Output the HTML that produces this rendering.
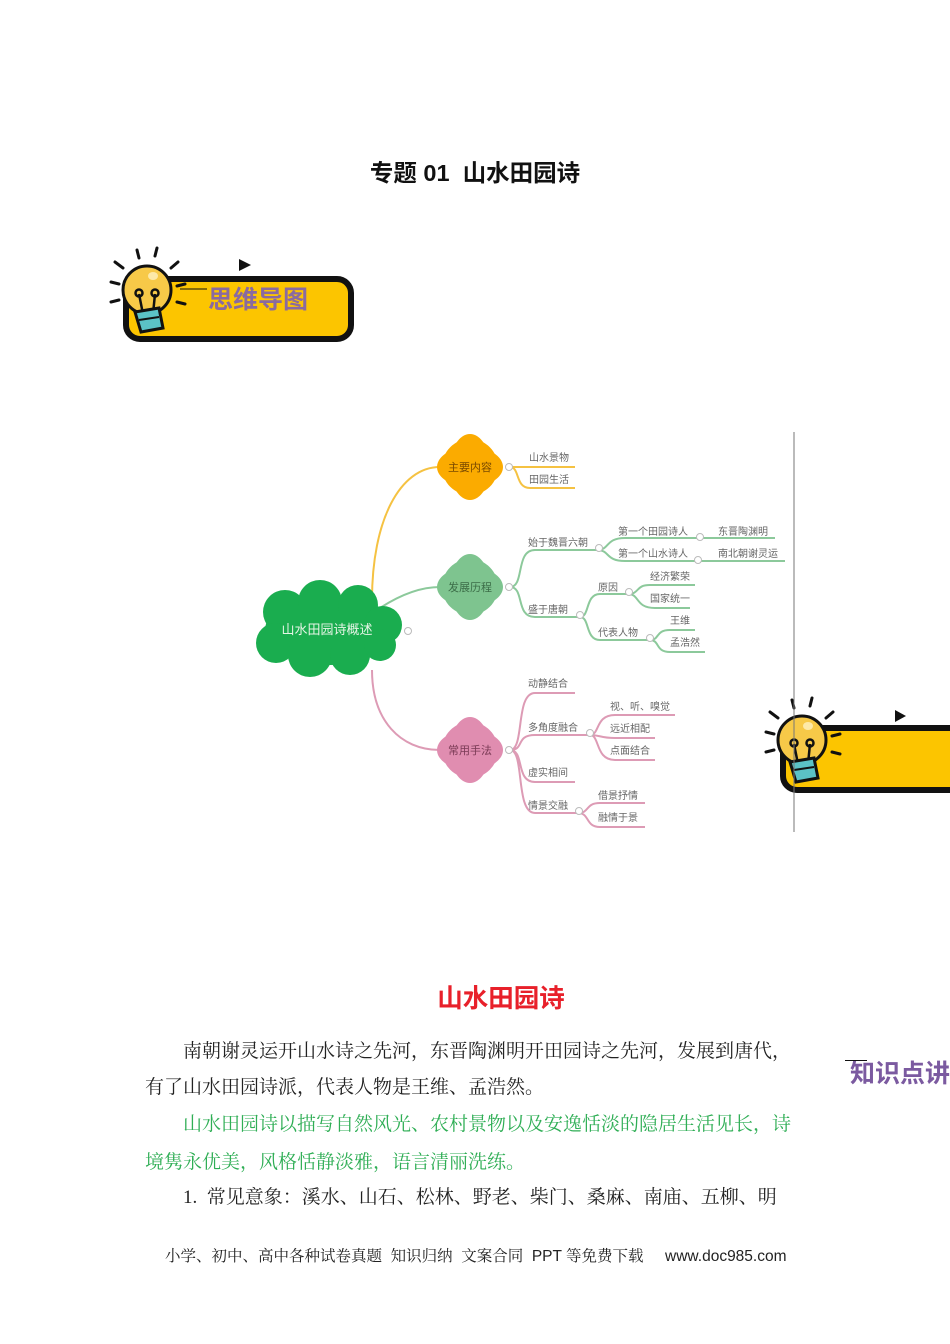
<!DOCTYPE html>
<html><head><meta charset="utf-8">
<style>
body{margin:0;width:950px;height:1344px;background:#fff;position:relative;overflow:hidden;font-family:"Liberation Sans","Noto Sans CJK SC",sans-serif;}
.a{position:absolute;white-space:nowrap;}
.p{position:absolute;font-family:"Liberation Serif","Noto Serif CJK SC",serif;font-size:19px;color:#222;white-space:nowrap;}
</style></head><body>
<div class="a" style="left:0;width:950px;top:154px;text-align:center;font-size:23.5px;font-weight:bold;color:#111;">专题 01&nbsp; 山水田园诗</div>

<svg class="a" style="left:0;top:0" width="950" height="1344">
<defs>
<g id="bulb">
 <g stroke="#111" stroke-width="3" stroke-linecap="round">
  <line x1="-14" y1="-32" x2="-16" y2="-40"/><line x1="2" y1="-34" x2="4" y2="-42"/>
  <line x1="-30" y1="-22" x2="-38" y2="-28"/><line x1="18" y1="-22" x2="25" y2="-28"/>
  <line x1="-34" y1="-6" x2="-42" y2="-8"/><line x1="-34" y1="10" x2="-42" y2="12"/>
  <line x1="24" y1="-4" x2="32" y2="-6"/><line x1="24" y1="12" x2="32" y2="14"/>
 </g>
 <circle cx="-6" cy="0" r="24" fill="#f7c948" stroke="#111" stroke-width="3"/>
 <ellipse cx="0" cy="-14" rx="5" ry="4" fill="#fde9a8"/>
 <path d="M-14 4 l4 20 M2 4 l-2 20" stroke="#111" stroke-width="2.5" fill="none"/>
 <circle cx="-14" cy="3" r="3.5" fill="none" stroke="#111" stroke-width="2.5"/>
 <circle cx="2" cy="3" r="3.5" fill="none" stroke="#111" stroke-width="2.5"/>
 <path d="M-18 22 l24 -4 l4 20 l-22 4 z" fill="#5bc2c6" stroke="#111" stroke-width="3"/>
 <line x1="-14" y1="30" x2="6" y2="27" stroke="#111" stroke-width="2"/>
</g>
</defs>
<rect x="126" y="279" width="225" height="60" rx="14" fill="#fcc500" stroke="#111" stroke-width="6"/>
<polygon points="239,259 251,265 239,271" fill="#111"/>
<line x1="180" y1="289" x2="207" y2="289" stroke="#111" stroke-width="1"/>
<use href="#bulb" transform="translate(153,290)"/>
<rect x="783" y="728" width="200" height="62" rx="14" fill="#fcc500" stroke="#111" stroke-width="6"/>
<polygon points="895,710 906,716 895,722" fill="#111"/>
<use href="#bulb" transform="translate(808,740)"/>
<line x1="794" y1="432" x2="794" y2="832" stroke="#777" stroke-width="1"/>

<g fill="none" stroke-width="2">
 <path d="M372 600 C372 520 400 467 440 467" stroke="#f5c242"/>
 <path d="M510 467 C520 467 520 467 575 467 M510 467 C520 467 515 488 530 488 L575 488" stroke="#f5c242"/>
 <path d="M380 608 C400 595 420 587 440 587" stroke="#8cc99b"/>
 <path d="M510 587 C525 587 515 550 535 550 L597 550 M597 550 C610 550 605 538 625 538 L775 538 M597 550 C610 550 605 561 625 561 L785 561" stroke="#8cc99b"/>
 <path d="M510 587 C525 587 515 617 535 617 L580 617 M580 617 C590 617 585 594 600 594 L628 594 M628 594 C640 594 635 585 650 585 L695 585 M628 594 C640 594 635 608 655 608 L690 608 M580 617 C590 617 585 640 600 640 L650 640 M650 640 C660 640 655 630 670 630 L695 630 M650 640 C660 640 655 652 670 652 L705 652" stroke="#8cc99b"/>
 <path d="M372 670 C372 720 400 750 440 750" stroke="#dd9bb5"/>
 <path d="M510 750 C525 750 515 693 535 693 L575 693 M510 750 C525 750 515 735 535 735 L590 735 M590 735 C600 735 595 715 615 715 L675 715 M590 735 C600 735 600 738 615 738 L655 738 M590 735 C600 735 595 760 615 760 L655 760 M510 750 C525 750 515 782 535 782 L575 782 M510 750 C525 750 515 813 535 813 L578 813 M578 813 C590 813 585 803 600 803 L645 803 M578 813 C590 813 585 827 600 827 L645 827" stroke="#dd9bb5"/>
</g>
<g fill="#1aad4f">
 <ellipse cx="330" cy="630" rx="65" ry="35"/>
 <circle cx="285" cy="612" r="22"/><circle cx="320" cy="602" r="22"/><circle cx="358" cy="605" r="20"/>
 <circle cx="383" cy="625" r="19"/><circle cx="276" cy="643" r="20"/><circle cx="310" cy="655" r="22"/>
 <circle cx="350" cy="655" r="20"/><circle cx="380" cy="645" r="16"/>
</g>
<g fill="#fbab00"><ellipse cx="470" cy="467" rx="33" ry="20"/><ellipse cx="470" cy="467" rx="20" ry="33"/><ellipse cx="470" cy="467" rx="28" ry="28"/></g>
<g fill="#7ec48f"><ellipse cx="470" cy="587" rx="33" ry="20"/><ellipse cx="470" cy="587" rx="20" ry="33"/><ellipse cx="470" cy="587" rx="28" ry="28"/></g>
<g fill="#e08db0"><ellipse cx="470" cy="750" rx="33" ry="20"/><ellipse cx="470" cy="750" rx="20" ry="33"/><ellipse cx="470" cy="750" rx="28" ry="28"/></g>
<g fill="#fff" stroke="#bbb" stroke-width="1">
 <circle cx="408" cy="631" r="3.5"/><circle cx="509" cy="467" r="3.5"/><circle cx="509" cy="587" r="3.5"/><circle cx="509" cy="750" r="3.5"/>
 <circle cx="599" cy="548" r="3.5"/><circle cx="580" cy="615" r="3.5"/><circle cx="629" cy="592" r="3.5"/><circle cx="650" cy="638" r="3.5"/>
 <circle cx="590" cy="733" r="3.5"/><circle cx="579" cy="811" r="3.5"/><circle cx="700" cy="537" r="3.5"/><circle cx="698" cy="560" r="3.5"/>
</g>
<g font-family="Liberation Sans,Noto Sans CJK SC,sans-serif" font-size="10" fill="#666">
 <text x="529" y="461">山水景物</text><text x="529" y="483">田园生活</text>
 <text x="528" y="546">始于魏晋六朝</text><text x="618" y="535">第一个田园诗人</text><text x="718" y="535">东晋陶渊明</text>
 <text x="618" y="557">第一个山水诗人</text><text x="718" y="557">南北朝谢灵运</text>
 <text x="528" y="613">盛于唐朝</text><text x="598" y="591">原因</text><text x="650" y="580">经济繁荣</text><text x="650" y="602">国家统一</text>
 <text x="598" y="636">代表人物</text><text x="670" y="624">王维</text><text x="670" y="646">孟浩然</text>
 <text x="528" y="687">动静结合</text><text x="528" y="731">多角度融合</text><text x="610" y="710">视、听、嗅觉</text><text x="610" y="732">远近相配</text><text x="610" y="754">点面结合</text>
 <text x="528" y="776">虚实相间</text><text x="528" y="809">情景交融</text><text x="598" y="799">借景抒情</text><text x="598" y="821">融情于景</text>
</g>
<g font-family="Liberation Sans,Noto Sans CJK SC,sans-serif" font-size="11">
 <text x="470" y="471" text-anchor="middle" fill="#7a4a00">主要内容</text>
 <text x="470" y="591" text-anchor="middle" fill="#3c6d48">发展历程</text>
 <text x="470" y="754" text-anchor="middle" fill="#7a3a55">常用手法</text>
 <text x="327" y="634" text-anchor="middle" fill="#e6f5e6" font-size="13">山水田园诗概述</text>
</g>
</svg>
<div class="a" style="left:208px;top:280px;font-size:25px;font-weight:bold;color:#8a6aa0;">思维导图</div>
<div class="a" style="left:850px;top:1054px;font-size:25px;font-weight:bold;color:#7b5aa0;">知识点讲</div>
<div class="a" style="left:845px;top:1060px;width:22px;height:1px;background:#111;"></div>

<div class="a" style="left:0;width:1002px;top:978px;text-align:center;font-size:25.5px;font-weight:bold;color:#e8202a;">山水田园诗</div>
<div class="p" style="left:183px;top:1036px;">南朝谢灵运开山水诗之先河，东晋陶渊明开田园诗之先河，发展到唐代，</div>
<div class="p" style="left:145px;top:1072px;">有了山水田园诗派，代表人物是王维、孟浩然。</div>
<div class="p" style="left:183px;top:1109px;color:#2fae55;">山水田园诗以描写自然风光、农村景物以及安逸恬淡的隐居生活见长，诗</div>
<div class="p" style="left:145px;top:1147px;color:#2fae55;">境隽永优美，风格恬静淡雅，语言清丽洗练。</div>
<div class="p" style="left:183px;top:1182px;">1.&nbsp; 常见意象：溪水、山石、松林、野老、柴门、桑麻、南庙、五柳、明</div>
<div class="a" style="left:165px;top:1244px;font-size:15.5px;color:#222;font-family:'Liberation Sans','Noto Serif CJK SC',serif;">小学、初中、高中各种试卷真题&nbsp; 知识归纳&nbsp; 文案合同&nbsp; PPT 等免费下载&nbsp;&nbsp;&nbsp;&nbsp; www.doc985.com</div>
</body></html>
